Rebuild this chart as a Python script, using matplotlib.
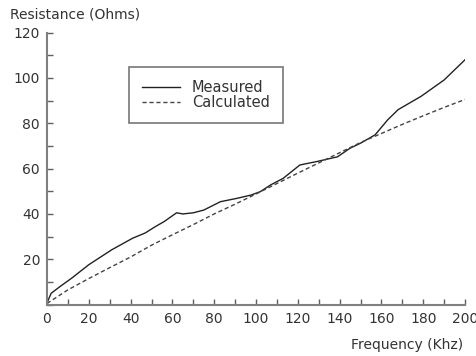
import matplotlib
matplotlib.use("Agg")
import matplotlib.pyplot as plt
from matplotlib.ticker import MultipleLocator

# Data
meas_freq = [0, 2, 6, 12, 20, 31, 41, 47, 52, 56, 62, 65, 70, 75, 83, 91, 97.5,
             102, 107, 113, 121, 129, 139, 145, 150, 157, 163, 168, 179, 190, 200]
meas_res = [0.8, 5.0, 7.8, 11.8, 17.6, 24.2, 29.3, 31.6, 34.5, 36.6, 40.5, 40.0,
            40.5, 41.7, 45.4, 46.9, 48.3, 49.8, 52.8, 55.7, 61.6, 63.1, 65.2,
            69.0, 71.2, 74.9, 81.5, 86.0, 91.9, 99.1, 108.0]

calc_freq = [0, 10, 20, 30, 40, 50, 60, 70, 80, 90, 100, 110, 120, 130, 140,
             150, 160, 170, 180, 190, 200]
calc_res = [0.5, 6.5, 11.5, 16.3, 21.0, 26.2, 30.8, 35.3, 40.0, 44.3, 48.8,
            53.4, 58.0, 62.5, 67.0, 71.5, 75.5, 79.5, 83.3, 87.0, 90.5]

x_ticks = [0, 20, 40, 60, 80, 100, 120, 140, 160, 180, 200]
y_ticks = [20, 40, 60, 80, 100, 120]

fig = plt.figure(figsize=(4.77, 3.56), dpi=100)
ax = fig.add_axes([47/477, 51.4/356, 418/477, 272/356])

ax.plot(meas_freq, meas_res, color="#222222", lw=1.0, label="Measured")
ax.plot(calc_freq, calc_res, color="#444444", lw=1.0, ls=(0, (3, 2)),
        label="Calculated")

ax.set_xlim(0, 200)
ax.set_ylim(0, 120)
ax.set_xticks(x_ticks)
ax.set_yticks(y_ticks)
ax.xaxis.set_minor_locator(MultipleLocator(10))
ax.yaxis.set_minor_locator(MultipleLocator(10))

for s in ["top", "right"]:
    ax.spines[s].set_visible(False)
for s in ["left", "bottom"]:
    ax.spines[s].set_color("#808080")
    ax.spines[s].set_linewidth(1.5)

ax.tick_params(which="both", direction="in", length=4, width=1,
               color="#606060", labelsize=10, labelcolor="#333333", pad=5)

fig.text(10/477, 1 - 15/356, "Resistance (Ohms)", fontsize=10,
         color="#333333", ha="left", va="center")
fig.text(463/477, 1 - 345/356, "Frequency (Khz)", fontsize=10,
         color="#333333", ha="right", va="center")

leg = ax.legend(loc="upper left", bbox_to_anchor=((129-47)/418, (304.6-67)/272),
                frameon=True, fancybox=False, fontsize=10.5, handlelength=2.6,
                borderpad=0.9, labelspacing=0.0, handletextpad=0.8,
                borderaxespad=0, labelcolor="#333333")
leg.get_frame().set_edgecolor("#555555")
leg.get_frame().set_linewidth(1.2)

fig.savefig("out.png", dpi=100)
